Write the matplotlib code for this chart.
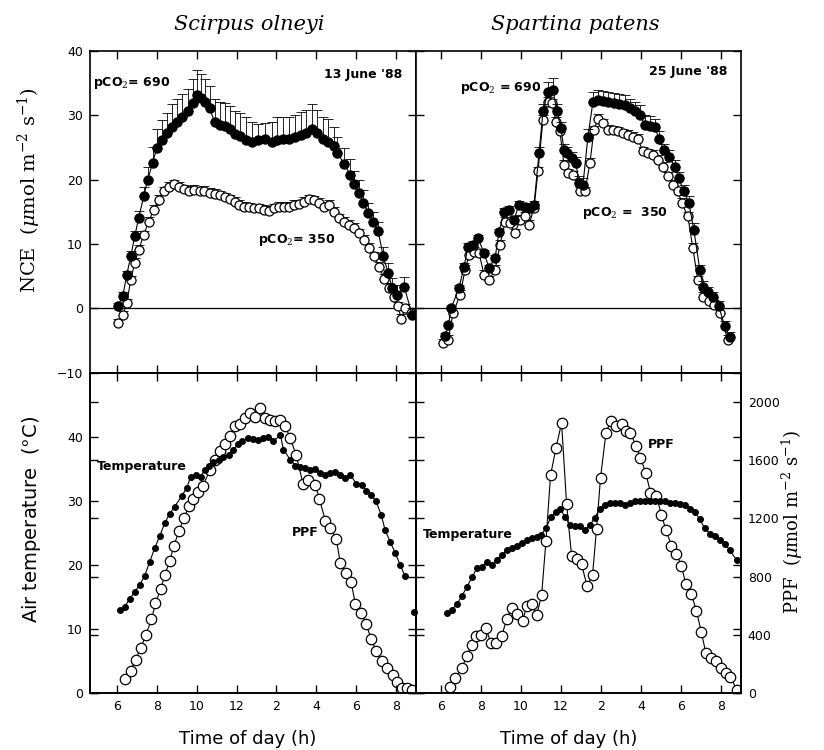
import matplotlib.pyplot as plt

# ---- NCE, Scirpus olneyi (13 June '88) ----
so_t_690 = [6.05, 6.3, 6.5, 6.7, 6.9, 7.1, 7.35, 7.55, 7.8, 8.0, 8.25, 8.5, 8.75, 9.0, 9.25,
            9.55, 9.8, 10.0, 10.2, 10.4, 10.65, 10.9, 11.15, 11.4, 11.65, 11.9, 12.2, 12.5, 12.8,
            13.1, 13.45, 13.8, 14.05, 14.35, 14.65, 14.95, 15.25, 15.5, 15.8, 16.05, 16.35, 16.6,
            16.9, 17.05, 17.4, 17.7, 17.9, 18.15, 18.35, 18.6, 18.85, 19.1, 19.35, 19.6, 19.8,
            20.05, 20.4, 20.8]
so_nce_690 = [0.3, 1.9, 5.2, 8.1, 11.2, 14.1, 17.4, 20.0, 22.6, 24.9, 26.2, 27.3, 28.2, 29.0, 29.8,
              30.6, 31.9, 33.2, 32.7, 32.1, 31.1, 29.0, 28.5, 28.4, 27.9, 27.1, 26.8, 26.2, 25.9,
              26.2, 26.3, 25.9, 26.2, 26.3, 26.3, 26.6, 27.0, 27.3, 27.9, 27.3, 26.3, 25.9,
              25.2, 24.1, 22.5, 20.7, 19.3, 17.9, 16.4, 14.9, 13.5, 12.0, 8.1, 5.5, 3.2,
              2.1, 3.4, -1.0]
so_err_690 = [0.5, 0.6, 0.6, 0.8, 0.8, 1.0, 1.5, 2.0, 2.5, 3.0, 3.0, 3.0, 3.5, 3.5, 3.5,
              3.5, 3.8, 3.8, 3.8, 3.5, 3.5, 3.5, 3.5, 3.5, 3.5, 3.5, 3.5, 3.5, 3.0,
              2.5, 2.5, 3.0, 3.5, 3.5, 3.5, 3.5, 3.5, 3.5, 3.8, 3.5, 3.5, 3.5,
              3.0, 2.5, 2.5, 2.5, 2.0, 2.0, 2.0, 1.5, 1.5, 1.5, 1.5, 1.5, 1.5,
              1.5, 1.5, 1.0]

so_t_350 = [6.07, 6.3, 6.5, 6.7, 6.9, 7.1, 7.35, 7.6, 7.85, 8.1, 8.35, 8.6, 8.85, 9.1, 9.35,
            9.6, 9.85, 10.15, 10.35, 10.65, 10.9, 11.15, 11.4, 11.65, 11.9, 12.15, 12.4, 12.65,
            12.9, 13.15, 13.4, 13.65, 13.9, 14.15, 14.4, 14.65, 14.9, 15.15, 15.4, 15.65, 15.9,
            16.15, 16.4, 16.65, 16.9, 17.15, 17.4, 17.65, 17.9, 18.15, 18.4, 18.65, 18.9, 19.15,
            19.4, 19.65, 19.9, 20.1, 20.25, 20.45, 20.75]
so_nce_350 = [-2.3, -1.1, 0.8, 4.4, 7.1, 9.1, 11.4, 13.5, 15.3, 16.9, 18.2, 18.9, 19.3, 18.9, 18.5,
              18.3, 18.4, 18.2, 18.3, 18.0, 17.8, 17.6, 17.3, 17.0, 16.6, 16.1, 15.8, 15.7,
              15.6, 15.6, 15.3, 15.2, 15.6, 15.8, 15.8, 15.8, 16.1, 16.2, 16.6, 17.0, 16.8,
              16.4, 15.8, 16.1, 15.0, 14.0, 13.5, 13.0, 12.5, 11.7, 10.7, 9.4, 8.1, 6.5,
              4.6, 3.2, 1.8, 0.3, -1.6, 0.0, -0.7]

# ---- NCE, Spartina patens (25 June '88) ----
sp_t_690 = [6.2, 6.37, 6.5, 6.9, 7.15, 7.35, 7.6, 7.85, 8.15, 8.4, 8.7, 8.9, 9.15, 9.4, 9.65,
            9.9, 10.2, 10.45, 10.65, 10.9, 11.1, 11.35, 11.6, 11.8, 12.0, 12.15, 12.3, 12.55,
            12.75, 12.9, 13.1, 13.35, 13.6, 13.85, 14.1, 14.35, 14.65, 14.9, 15.2, 15.45, 15.7,
            15.95, 16.2, 16.45, 16.7, 16.9, 17.15, 17.4, 17.7, 17.9, 18.15, 18.4, 18.65, 18.95,
            19.1, 19.35, 19.6, 19.9, 20.2, 20.45]
sp_nce_690 = [-4.3, -2.6, 0.0, 3.2, 6.5, 9.6, 9.9, 10.9, 8.6, 6.3, 7.8, 11.9, 15.0, 15.3, 13.8,
              16.1, 15.8, 15.6, 16.1, 24.1, 30.6, 33.7, 33.9, 30.6, 28.0, 24.6, 24.1, 23.3,
              22.6, 19.5, 19.2, 26.7, 32.1, 32.4, 32.3, 32.1, 31.9, 31.8, 31.6, 31.1, 30.6,
              30.1, 28.5, 28.4, 28.2, 26.4, 24.6, 23.6, 22.0, 20.2, 18.2, 16.4, 12.2, 6.0,
              3.4, 2.6, 1.8, 0.3, -2.8, -4.4]
sp_err_690 = [0.4, 0.4, 0.4, 0.4, 0.5, 0.5, 0.5, 0.5, 0.5, 0.5, 0.5, 0.5, 0.6, 0.6, 0.6,
              0.6, 0.6, 0.6, 0.6, 1.0, 1.2, 1.5, 1.9, 1.2, 1.0, 1.0, 1.0, 1.0,
              1.0, 1.0, 1.0, 1.2, 1.5, 1.5, 1.5, 1.5, 1.5, 1.5, 1.5, 1.5, 1.5,
              1.5, 1.5, 1.5, 1.2, 1.2, 1.0, 1.0, 1.0, 1.0, 1.0, 1.0, 1.0, 0.8,
              0.8, 0.8, 0.8, 0.8, 0.8, 0.8]

sp_t_350 = [6.1, 6.35, 6.6, 6.95, 7.2, 7.4, 7.65, 7.9, 8.15, 8.4, 8.7, 8.95, 9.2, 9.45, 9.7,
            9.95, 10.2, 10.4, 10.65, 10.85, 11.1, 11.35, 11.55, 11.75, 11.95, 12.15, 12.35,
            12.6, 12.95, 13.2, 13.45, 13.65, 13.85, 14.1, 14.35, 14.6, 14.85, 15.1, 15.35,
            15.6, 15.85, 16.1, 16.35, 16.6, 16.85, 17.1, 17.35, 17.6, 17.85, 18.05, 18.35,
            18.6, 18.85, 19.1, 19.4, 19.65, 19.95, 20.35]
sp_nce_350 = [-5.4, -4.9, -0.7, 2.1, 6.0, 8.3, 8.8, 8.6, 5.2, 4.4, 6.0, 9.9, 13.5, 13.2, 11.7,
              13.8, 14.3, 13.0, 15.6, 21.3, 29.3, 32.1, 31.9, 29.0, 27.5, 22.3, 21.0,
              20.7, 18.2, 18.2, 22.6, 27.7, 29.5, 28.8, 27.8, 27.7, 27.5, 27.2, 27.0,
              26.7, 26.4, 24.4, 24.1, 23.9, 23.1, 22.0, 20.5, 19.2, 18.2, 16.4, 14.3,
              9.4, 4.4, 1.8, 1.1, 0.6, -0.7, -4.9]

# ---- Air temperature and PPF, Scirpus olneyi ----
so_t_temp = [6.15, 6.4, 6.65, 6.9, 7.15, 7.4, 7.65, 7.9, 8.15, 8.4, 8.65, 8.9, 9.25, 9.5, 9.7,
             9.95, 10.2, 10.4, 10.6, 10.8, 11.1, 11.3, 11.6, 11.8, 12.1, 12.3, 12.6, 12.85, 13.1,
             13.35, 13.6, 13.85, 14.2, 14.35, 14.7, 14.95, 15.2, 15.45, 15.7, 15.95, 16.2, 16.45,
             16.7, 16.95, 17.2, 17.45, 17.7, 18.0, 18.3, 18.5, 18.75, 19.0, 19.25, 19.45, 19.7,
             19.95, 20.2, 20.45]
so_temp = [13.0, 13.5, 14.7, 15.8, 16.9, 18.3, 20.5, 22.6, 24.5, 26.5, 28.0, 29.1, 30.7, 32.0, 33.7,
           34.1, 33.8, 34.8, 35.5, 36.1, 36.4, 36.8, 37.2, 38.0, 38.8, 39.3, 39.8, 39.6, 39.5,
           39.8, 40.0, 39.3, 40.3, 38.0, 36.4, 35.5, 35.3, 35.2, 34.8, 35.0, 34.4, 34.1,
           34.4, 34.5, 34.1, 33.6, 34.1, 32.7, 32.5, 31.5, 30.9, 29.9, 27.8, 25.4, 23.6,
           21.9, 20.0, 18.2]
so_t_temp_end = [20.9]
so_temp_end = [12.7]

so_t_ppf = [6.4, 6.7, 6.94, 7.2, 7.46, 7.74, 7.94, 8.2, 8.41, 8.66, 8.86, 9.12, 9.37, 9.62, 9.82,
            10.07, 10.32, 10.67, 10.92, 11.18, 11.43, 11.68, 11.93, 12.18, 12.43, 12.68, 12.93,
            13.19, 13.44, 13.69, 13.94, 14.19, 14.44, 14.69, 14.99, 15.33, 15.6, 15.95, 16.15,
            16.45, 16.7, 17.0, 17.2, 17.49, 17.74, 17.96, 18.26, 18.5, 18.74, 19.0, 19.27,
            19.55, 19.85, 20.06, 20.31, 20.56, 20.81]
so_ppf = [97, 154, 228, 307, 401, 505, 616, 713, 810, 909, 1010, 1114, 1204, 1282, 1336,
          1384, 1425, 1532, 1600, 1660, 1709, 1765, 1834, 1848, 1889, 1924, 1896,
          1958, 1889, 1877, 1866, 1877, 1834, 1751, 1635, 1439, 1462, 1432, 1336,
          1185, 1135, 1059, 893, 823, 763, 609, 547, 471, 374, 286, 217,
          173, 125, 78, 35, 35, 21]

# ---- Air temperature and PPF, Spartina patens ----
sp_t_temp = [6.3, 6.55, 6.8, 7.05, 7.3, 7.55, 7.8, 8.05, 8.3, 8.55, 8.8, 9.05, 9.3, 9.55, 9.8,
             10.05, 10.3, 10.55, 10.8, 11.0, 11.25, 11.5, 11.75, 11.95, 12.2, 12.45, 12.7, 12.95,
             13.2, 13.45, 13.7, 13.95, 14.2, 14.45, 14.7, 14.95, 15.2, 15.45, 15.7, 15.95, 16.2,
             16.45, 16.7, 16.95, 17.2, 17.45, 17.7, 17.95, 18.2, 18.45, 18.7, 18.95, 19.2, 19.45,
             19.7, 19.95, 20.2, 20.45, 20.8]
sp_temp = [12.5, 13.0, 13.9, 15.2, 16.6, 18.1, 19.5, 19.7, 20.4, 20.0, 20.8, 21.6, 22.3, 22.6, 22.9,
           23.4, 23.9, 24.2, 24.4, 24.7, 25.7, 27.5, 28.3, 28.8, 27.5, 26.2, 26.1, 26.0,
           25.5, 26.2, 27.4, 28.8, 29.4, 29.7, 29.7, 29.6, 29.4, 29.6, 29.9, 29.9, 29.9,
           30.0, 29.9, 30.0, 29.9, 29.7, 29.6, 29.5, 29.4, 28.8, 28.3, 27.1, 25.7, 24.9,
           24.5, 23.9, 23.3, 22.3, 20.7]

sp_t_ppf = [6.45, 6.7, 7.03, 7.28, 7.53, 7.75, 7.98, 8.25, 8.48, 8.75, 9.03, 9.28, 9.53, 9.78,
            10.08, 10.28, 10.53, 10.78, 11.03, 11.25, 11.48, 11.75, 12.03, 12.28, 12.53, 12.78,
            13.03, 13.3, 13.58, 13.78, 13.98, 14.25, 14.48, 14.75, 15.03, 15.25, 15.48, 15.75,
            15.98, 16.25, 16.48, 16.78, 17.03, 17.25, 17.53, 17.78, 18.03, 18.25, 18.53, 18.78,
            19.03, 19.25, 19.53, 19.78, 20.03, 20.28, 20.48, 20.8]
sp_ppf = [40, 100, 171, 251, 332, 394, 401, 448, 344, 344, 390, 505, 586, 540,
          493, 597, 609, 533, 671, 1047, 1497, 1682, 1855, 1301, 943, 920,
          886, 736, 810, 1128, 1479, 1785, 1866, 1832, 1848, 1797, 1785, 1700,
          1617, 1509, 1377, 1354, 1220, 1123, 1012, 955, 874, 747, 678, 563,
          417, 275, 240, 217, 171, 136, 113, 20]

hour_ticks = [6, 8, 10, 12, 14, 16, 18, 20]
hour_labels = ['6', '8', '10', '12', '2', '4', '6', '8']
nce_ticks = [-10, 0, 10, 20, 30, 40]
temp_ticks = [0, 10, 20, 30, 40]
ppf_ticks = [0, 400, 800, 1200, 1600, 2000]

plt.rcParams['font.family'] = 'DejaVu Sans'
plt.rcParams['mathtext.fontset'] = 'dejavuserif'

fig = plt.figure(figsize=(8.24, 7.5), dpi=100)

x0, xm, x1 = 0.109, 0.505, 0.899
y0, ym, y1 = 0.076, 0.503, 0.932
ax_tl = fig.add_axes([x0, ym, xm - x0, y1 - ym])
ax_tr = fig.add_axes([xm, ym, x1 - xm, y1 - ym])
ax_bl = fig.add_axes([x0, y0, xm - x0, ym - y0])
ax_br = fig.add_axes([xm, y0, x1 - xm, ym - y0])
ax_bl2 = ax_bl.twinx()
ax_br2 = ax_br.twinx()

lw = 0.8


def style(ax):
    for s in ax.spines.values():
        s.set_linewidth(1.2)
    ax.tick_params(direction='in', length=6, width=1, labelsize=9,
                   top=True, bottom=True, left=True, right=True, pad=5)


# top panels: NCE
for ax, t6, v6, e6, t3, v3 in [
        (ax_tl, so_t_690, so_nce_690, so_err_690, so_t_350, so_nce_350),
        (ax_tr, sp_t_690, sp_nce_690, sp_err_690, sp_t_350, sp_nce_350)]:
    ax.axhline(0, color='black', lw=0.9)
    ax.errorbar(t3, v3, yerr=[[0] * len(v3), [0.7] * len(v3)], fmt='none',
                ecolor='black', elinewidth=0.6, capsize=3.5, capthick=0.6)
    ax.plot(t3, v3, '-o', color='black', lw=lw, ms=6.5, mfc='white', mec='black', mew=0.9)
    ax.errorbar(t6, v6, yerr=[[0] * len(v6), e6], fmt='none',
                ecolor='black', elinewidth=0.6, capsize=3.5, capthick=0.6)
    ax.plot(t6, v6, '-o', color='black', lw=lw, ms=6.5, mfc='black', mec='black')
    ax.set_ylim(-10, 40)
    ax.set_yticks(nce_ticks)
    ax.set_xticks(hour_ticks)
    ax.tick_params(labelbottom=False)
    style(ax)

ax_tl.set_xlim(4.65, 21.0)
ax_tr.set_xlim(4.75, 21.0)
ax_tr.tick_params(labelleft=False)

# bottom panels: temperature and PPF
for ax, ax2, tt, tv, pt, pv in [
        (ax_bl, ax_bl2, so_t_temp, so_temp, so_t_ppf, so_ppf),
        (ax_br, ax_br2, sp_t_temp, sp_temp, sp_t_ppf, sp_ppf)]:
    ax2.plot(pt, pv, '-o', color='black', lw=lw, ms=7.5, mfc='white', mec='black', mew=0.9)
    ax.plot(tt, tv, '-o', color='black', lw=lw, ms=4, mfc='black', mec='black', zorder=5)
    ax.set_zorder(ax2.get_zorder() + 1)
    ax.patch.set_visible(False)
    ax.set_ylim(0, 50)
    ax.set_yticks(temp_ticks)
    ax2.set_ylim(0, 2200)
    ax2.set_yticks(ppf_ticks)
    ax.set_xticks(hour_ticks)
    ax.set_xticklabels(hour_labels)
    style(ax)
    style(ax2)
    ax2.tick_params(labelright=False, labelleft=False)

ax_bl.plot(so_t_temp_end, so_temp_end, 'o', color='black', ms=4, clip_on=False)
ax_bl.set_xlim(4.65, 21.0)
ax_br.set_xlim(4.75, 21.0)
ax_br.tick_params(labelleft=False)
ax_br2.tick_params(labelright=True)

# annotations
bold = dict(fontsize=9, fontweight='bold', family='DejaVu Sans')
ax_tl.text(0.01, 0.90, 'pCO$_2$= 690', transform=ax_tl.transAxes, va='center', **bold)
ax_tl.text(0.957, 0.928, "13 June '88", transform=ax_tl.transAxes, ha='right', va='center', **bold)
ax_tl.text(0.515, 0.413, 'pCO$_2$= 350', transform=ax_tl.transAxes, va='center', **bold)
ax_tr.text(0.135, 0.885, 'pCO$_2$ = 690', transform=ax_tr.transAxes, va='center', **bold)
ax_tr.text(0.96, 0.935, "25 June '88", transform=ax_tr.transAxes, ha='right', va='center', **bold)
ax_tr.text(0.51, 0.497, 'pCO$_2$ =  350', transform=ax_tr.transAxes, va='center', **bold)
ax_bl.text(0.021, 0.706, 'Temperature', transform=ax_bl.transAxes, va='center', **bold)
ax_bl.text(0.62, 0.50, 'PPF', transform=ax_bl.transAxes, va='center', **bold)
ax_br.text(0.022, 0.494, 'Temperature', transform=ax_br.transAxes, va='center', **bold)
ax_br.text(0.714, 0.775, 'PPF', transform=ax_br.transAxes, va='center', **bold)

# titles and axis labels
fig.text(0.303, 0.968, 'Scirpus olneyi', ha='center', va='center', fontsize=15,
         family='DejaVu Serif', style='italic')
fig.text(0.698, 0.968, 'Spartina patens', ha='center', va='center', fontsize=15,
         family='DejaVu Serif', style='italic')
fig.text(0.036, 0.747, r'NCE  ($\mu$mol m$^{-2}$ s$^{-1}$)', rotation=90, ha='center',
         va='center', fontsize=14, family='DejaVu Serif')
fig.text(0.038, 0.307, r'Air temperature  ($\degree$C)', rotation=90, ha='center',
         va='center', fontsize=14)
fig.text(0.962, 0.304, r'PPF  ($\mu$mol m$^{-2}$ s$^{-1}$)', rotation=90, ha='center',
         va='center', fontsize=13, family='DejaVu Serif')
fig.text(0.300, 0.014, 'Time of day (h)', ha='center', va='center', fontsize=13)
fig.text(0.690, 0.014, 'Time of day (h)', ha='center', va='center', fontsize=13)

fig.savefig('out.png', dpi=100)
